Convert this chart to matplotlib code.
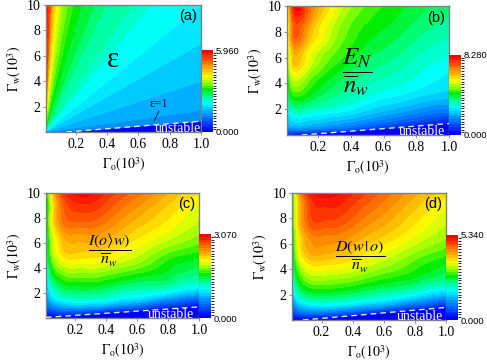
import numpy as np
import matplotlib
matplotlib.use('Agg')
import matplotlib.pyplot as plt
from matplotlib.colors import LinearSegmentedColormap, ListedColormap, BoundaryNorm
from matplotlib.cm import ScalarMappable
import matplotlib.tri as mtri

plt.rcParams['font.family'] = ['Liberation Serif', 'DejaVu Serif']
plt.rcParams['mathtext.fontset'] = 'stix'

# ---------------- data ----------------
x_ticks = [0.2, 0.4, 0.6, 0.8, 1.0]
y_ticks = [2, 4, 6, 8, 10]

# panel (a): epsilon is constant along rays y/x
ratio_a = [0.01, 0.86, 1.7, 4, 7, 10, 15, 18, 26, 34, 62, 118, 200, 280, 600, 1000, 3000]
eps_a = [1.0, 1.2, 1.39, 1.59, 1.79, 1.99, 2.2, 2.4, 2.6, 2.85, 3.3, 4.0, 4.6, 5.3, 5.8, 5.96, 5.96]
vmax_a = 5.96

# grids for panels (b), (c), (d): values per x column, listed along y
y_grid = [0.01, 0.5, 1, 2, 4, 6, 8, 10]

x_b = [0.01, 0.04, 0.07, 0.12, 0.2, 0.3, 0.4, 0.6, 0.8, 1.0]
en_b = [
    [0.3, 1.6, 2.2, 2.9, 3.9, 4.5, 4.9, 5.2],
    [0.3, 1.8, 2.4, 3.3, 4.9, 6.0, 6.8, 7.4],
    [0.2, 1.8, 2.5, 3.5, 5.1, 6.3, 7.3, 8.2],
    [0.1, 1.7, 2.4, 3.4, 4.8, 5.8, 6.7, 7.4],
    [0.0, 1.6, 2.3, 3.2, 4.3, 5.1, 5.8, 6.4],
    [0.0, 1.4, 2.1, 3.0, 3.9, 4.6, 5.1, 5.6],
    [0.0, 1.2, 1.9, 2.8, 3.6, 4.2, 4.6, 5.0],
    [0.0, 0.7, 1.4, 2.3, 3.2, 3.7, 4.1, 4.4],
    [0.0, 0.3, 0.9, 1.9, 2.9, 3.3, 3.7, 4.0],
    [0.0, 0.1, 0.5, 1.6, 2.6, 3.0, 3.4, 3.7],
]
vmax_b = 8.28

x_cd = [0.01, 0.04, 0.07, 0.1, 0.2, 0.3, 0.4, 0.6, 0.8, 1.0]
io_c = [
    [0.0, 0.2, 0.4, 0.65, 1.0, 1.2, 1.35, 1.45],
    [0.0, 0.3, 0.6, 1.0, 1.5, 1.8, 1.95, 2.05],
    [0.0, 0.35, 0.7, 1.15, 1.75, 2.05, 2.3, 2.45],
    [0.0, 0.4, 0.75, 1.25, 1.85, 2.2, 2.5, 2.7],
    [0.0, 0.4, 0.85, 1.35, 1.95, 2.35, 2.7, 3.0],
    [0.0, 0.35, 0.8, 1.35, 1.95, 2.35, 2.7, 3.0],
    [0.0, 0.25, 0.75, 1.3, 1.9, 2.3, 2.6, 2.85],
    [0.0, 0.15, 0.55, 1.15, 1.75, 2.1, 2.35, 2.6],
    [0.0, 0.05, 0.3, 1.0, 1.55, 1.9, 2.15, 2.35],
    [0.0, 0.0, 0.1, 0.8, 1.4, 1.75, 1.95, 2.15],
]
vmax_c = 3.07

dwo_d = [
    [0.0, 0.4, 0.8, 1.3, 2.0, 2.35, 2.6, 2.75],
    [0.0, 0.65, 1.15, 1.95, 2.85, 3.35, 3.65, 3.85],
    [0.0, 0.75, 1.35, 2.25, 3.25, 3.85, 4.2, 4.45],
    [0.0, 0.8, 1.45, 2.4, 3.45, 4.1, 4.55, 4.85],
    [0.0, 0.8, 1.55, 2.55, 3.6, 4.3, 4.85, 5.3],
    [0.0, 0.7, 1.5, 2.5, 3.55, 4.25, 4.8, 5.2],
    [0.0, 0.55, 1.35, 2.4, 3.45, 4.1, 4.6, 5.0],
    [0.0, 0.25, 1.0, 2.15, 3.15, 3.75, 4.2, 4.55],
    [0.0, 0.1, 0.6, 1.8, 2.85, 3.4, 3.8, 4.15],
    [0.0, 0.0, 0.2, 1.45, 2.55, 3.1, 3.45, 3.8],
]
vmax_d = 5.34

# stability boundaries (dashed lines)
bnd_a = ([0.14, 1.0], [0.01, 0.86])
bnd_b = ([0.10, 1.0], [0.01, 0.90])
bnd_c = ([0.01, 1.0], [0.06, 0.90])
bnd_d = ([0.08, 1.0], [0.01, 1.00])

# ---------------- style ----------------
NLEV = 30
base = LinearSegmentedColormap.from_list('origin', [
    (0.0, '#0000ff'), (0.17, '#0078ff'), (0.34, '#00ffff'), (0.43, '#00ff90'),
    (0.52, '#00ee00'), (0.60, '#90ff00'), (0.68, '#ffff00'), (0.82, '#ff9000'),
    (1.0, '#ff0000')])
cmap = ListedColormap(base(np.linspace(0, 1, NLEV)))
cmap.set_under('#0000ff')
cmap.set_over('#ff0000')
GRAY = '#808080'

fig = plt.figure(figsize=(4.87, 3.62), dpi=100)

def px(l, r, t, b):
    W, H = 487.0, 362.0
    return [l / W, 1 - b / H, (r - l) / W, (b - t) / H]

panels = {
    'a': dict(ax=px(46, 201, 5, 132), cb=px(202, 213, 50, 132), vmax=vmax_a, bnd=bnd_a),
    'b': dict(ax=px(287, 449, 6, 135), cb=px(449, 461, 55, 135), vmax=vmax_b, bnd=bnd_b),
    'c': dict(ax=px(46, 199, 193, 318), cb=px(199, 211, 234, 318), vmax=vmax_c, bnd=bnd_c),
    'd': dict(ax=px(292, 446, 193, 320), cb=px(446, 458, 235, 320), vmax=vmax_d, bnd=bnd_d),
}

def setup_axes(key):
    p = panels[key]
    ax = fig.add_axes(p['ax'])
    ax.set_xlim(0.01, 1.0)
    ax.set_ylim(0.01, 10)
    ax.set_xticks(x_ticks)
    ax.set_xticklabels(['%.1f' % v for v in x_ticks])
    ax.set_yticks(y_ticks)
    ax.tick_params(direction='out', length=2, width=0.6, color=GRAY, labelsize=10, pad=2)
    for s in ax.spines.values():
        s.set_color(GRAY)
        s.set_linewidth(1.0)
    ax.set_xlabel(r'$\Gamma_\mathrm{o}(10^3)$', fontsize=10, labelpad=4)
    ax.set_ylabel(r'$\Gamma_\mathrm{w}(10^3)$', fontsize=10, labelpad=2)
    levels = np.linspace(0, p['vmax'], NLEV + 1)
    norm = BoundaryNorm(levels, NLEV)
    return ax, levels, norm

def add_cbar(key, norm, vmax):
    cax = fig.add_axes(panels[key]['cb'])
    sm = ScalarMappable(norm=norm, cmap=cmap)
    cb = fig.colorbar(sm, cax=cax, ticks=[0, vmax])
    cb.ax.set_yticklabels(['0.000', '%.3f' % vmax], fontfamily='Liberation Sans', fontsize=6.8)
    cb.ax.tick_params(length=0, pad=2)
    cb.outline.set_visible(False)

def add_unstable(ax, bnd, tx):
    bx, by = bnd
    ax.fill_between(bx, 0, by, color='#0000ff', lw=0, zorder=2)
    ax.plot(bx, by, ls=(0, (4, 3)), color='#e8e8e8', lw=1.0, zorder=3)
    ax.text(tx, 0.3, 'unstable', color='white', fontsize=10, ha='center',
            va='center', zorder=4)

def grid_field(ax, xs, vals, levels, norm):
    X, Y = np.meshgrid(xs, y_grid)
    Z = np.array(vals, dtype=float).T
    tri = mtri.Triangulation(X.ravel(), Y.ravel())
    refiner = mtri.UniformTriRefiner(tri)
    tri_r, z_r = refiner.refine_field(Z.ravel(), subdiv=4)
    ax.tricontourf(tri_r, z_r, levels=levels, cmap=cmap, norm=norm, extend='both', zorder=1)

def panel_label(ax, s):
    ax.text(0.975, 0.965, s, transform=ax.transAxes, ha='right', va='top',
            fontfamily='Liberation Sans', fontsize=10.5, zorder=5)

# ---- (a)
ax, levels, norm = setup_axes('a')
xs_ray = np.array([0.01, 0.5, 1.0])
r = np.array(ratio_a)
X = np.tile(xs_ray, (len(r), 1))
Y = np.outer(r, xs_ray)
Z = np.tile(np.array(eps_a)[:, None], (1, len(xs_ray)))
ax.contourf(X, Y, Z, levels=levels, cmap=cmap, norm=norm, extend='both', zorder=1)
add_unstable(ax, bnd_a, 0.85)
ax.text(0.44, 5.7, 'ε', fontsize=21, ha='center', va='center', zorder=5)
ax.text(0.73, 2.25, 'ε=1', fontsize=9, ha='center', va='center',
        color='#141440', zorder=5)
ax.plot([0.73, 0.70], [1.65, 0.85], color='#141440', lw=0.7, zorder=5)
panel_label(ax, '(a)')
add_cbar('a', norm, vmax_a)

# ---- (b)
ax, levels, norm = setup_axes('b')
grid_field(ax, x_b, en_b, levels, norm)
add_unstable(ax, bnd_b, 0.835)
ax.text(0.44, 4.9, r'$\dfrac{E_N}{\overline{n}_w}$', fontsize=18, ha='center',
        va='center', zorder=5)
panel_label(ax, '(b)')
add_cbar('b', norm, vmax_b)

# ---- (c)
ax, levels, norm = setup_axes('c')
grid_field(ax, x_cd, io_c, levels, norm)
add_unstable(ax, bnd_c, 0.82)
ax.text(0.42, 5.4, r'$\dfrac{I(o\rangle w)}{\overline{n}_w}$', fontsize=11.5,
        ha='center', va='center', zorder=5)
panel_label(ax, '(c)')
add_cbar('c', norm, vmax_c)

# ---- (d)
ax, levels, norm = setup_axes('d')
grid_field(ax, x_cd, dwo_d, levels, norm)
add_unstable(ax, bnd_d, 0.83)
ax.text(0.45, 5.0, r'$\dfrac{D(w\,|\,o)}{\overline{n}_w}$', fontsize=11.5,
        ha='center', va='center', zorder=5)
panel_label(ax, '(d)')
add_cbar('d', norm, vmax_d)

fig.savefig('out.png', dpi=100)
